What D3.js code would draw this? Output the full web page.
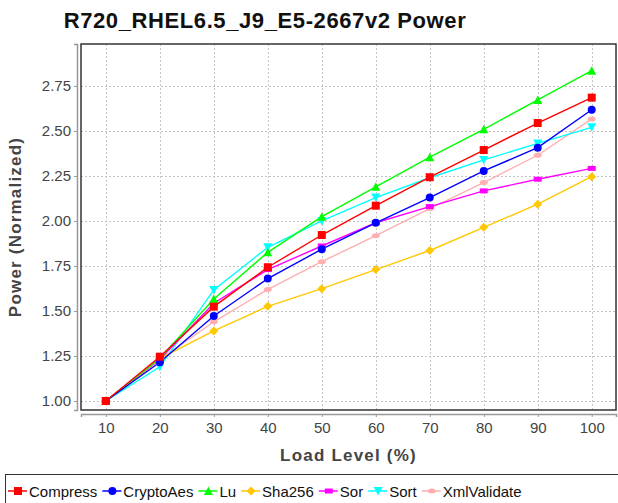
<!DOCTYPE html>
<html>
<head>
<meta charset="utf-8">
<script src="https://cdn.jsdelivr.net/npm/d3@7"></script>
<style>
  body { margin: 0; background: #fff; }
  svg { display: block; font-family: "Liberation Sans", Arial, sans-serif; }
</style>
</head>
<body>
<div id="chart"></div>
<script>
const loadLevels = [10, 20, 30, 40, 50, 60, 70, 80, 90, 100];
const compress    = [1.00, 1.246, 1.524, 1.743, 1.922, 2.085, 2.243, 2.394, 2.544, 2.685];
const cryptoAes   = [1.00, 1.215, 1.472, 1.680, 1.843, 1.990, 2.130, 2.278, 2.407, 2.618];
const lu          = [1.00, 1.237, 1.567, 1.826, 2.024, 2.190, 2.354, 2.509, 2.672, 2.835];
const sha256      = [1.00, 1.235, 1.389, 1.526, 1.624, 1.730, 1.836, 1.965, 2.093, 2.246];
const sor         = [1.00, 1.230, 1.543, 1.730, 1.861, 1.990, 2.080, 2.167, 2.232, 2.292];
const sort        = [1.00, 1.190, 1.617, 1.854, 2.000, 2.130, 2.240, 2.339, 2.431, 2.520];
const xmlValidate = [1.00, 1.230, 1.440, 1.620, 1.774, 1.918, 2.068, 2.213, 2.365, 2.567];

const seriesNames = ["Compress", "CryptoAes", "Lu", "Sha256", "Sor", "Sort", "XmlValidate"];
const seriesValues = [compress, cryptoAes, lu, sha256, sor, sort, xmlValidate];
const seriesColors = ["#ff0000", "#0000ff", "#00ff00", "#ffc800", "#ff00ff", "#00ffff", "#ffafaf"];
const seriesShapes = ["square", "circle", "triUp", "diamond", "hRect", "triDown", "hEllipse"];
const yTicks = [1.00, 1.25, 1.50, 1.75, 2.00, 2.25, 2.50, 2.75];

const width = 618, height = 503;
const plot = {left: 81, right: 616, top: 44, bottom: 410};

const svg = d3.select("#chart").append("svg")
    .attr("width", width)
    .attr("height", height);

const x = d3.scaleLinear().domain([5.4, 104.5]).range([plot.left, plot.right]);
const y = d3.scaleLinear().domain([0.95, 2.983]).range([plot.bottom, plot.top]);

// grid
const grid = svg.append("g").attr("stroke", "#c4c4c4").attr("stroke-dasharray", "2,2").attr("stroke-width", 1);
grid.selectAll("line.gx").data(loadLevels).join("line")
    .attr("x1", d => Math.round(x(d)) + 0.5).attr("x2", d => Math.round(x(d)) + 0.5)
    .attr("y1", plot.top).attr("y2", plot.bottom);
grid.selectAll("line.gy").data(yTicks).join("line")
    .attr("y1", d => Math.round(y(d)) + 0.5).attr("y2", d => Math.round(y(d)) + 0.5)
    .attr("x1", plot.left).attr("x2", plot.right);

// plot border
svg.append("rect")
    .attr("x", plot.left).attr("y", plot.top)
    .attr("width", plot.right - plot.left).attr("height", plot.bottom - plot.top)
    .attr("fill", "none").attr("stroke", "#333").attr("stroke-width", 1.5);

// axes, offset from the plot
const xAxis = svg.append("g")
    .attr("transform", `translate(0,${plot.bottom + 4})`)
    .call(d3.axisBottom(x).tickValues(loadLevels).tickSize(3).tickPadding(5));
const yAxis = svg.append("g")
    .attr("transform", `translate(${plot.left - 4},0)`)
    .call(d3.axisLeft(y).tickValues(yTicks).tickFormat(d3.format(".2f")).tickSize(3).tickPadding(3));

[xAxis, yAxis].forEach(a => {
    a.select(".domain").attr("stroke", "#999").attr("stroke-width", 1.5);
    a.selectAll(".tick line").attr("stroke", "#999");
    a.selectAll(".tick text").attr("fill", "#444").attr("font-size", 15)
        .attr("font-family", "'Liberation Sans', Arial, sans-serif");
});

// series symbols
function shapePath(kind) {
    switch (kind) {
        case "square": return "M-4,-4H4V4H-4Z";
        case "circle": return d3.symbol(d3.symbolCircle, 50)();
        case "triUp": return "M0,-4.5L4.5,4L-4.5,4Z";
        case "triDown": return "M0,4.5L4.5,-4L-4.5,-4Z";
        case "diamond": return "M0,-4.5L4.5,0L0,4.5L-4.5,0Z";
        case "hRect": return "M-4,-2.5H4V2.5H-4Z";
        case "hEllipse": return "M-4,0A4,2.5 0 1,0 4,0A4,2.5 0 1,0 -4,0Z";
    }
}

const line = d3.line().x((d, i) => x(loadLevels[i])).y(d => y(d));
const order = d3.range(seriesNames.length).reverse();

const lines = svg.append("g");
order.forEach(s => {
    lines.append("path")
        .datum(seriesValues[s])
        .attr("d", line)
        .attr("fill", "none")
        .attr("stroke", seriesColors[s])
        .attr("stroke-width", 1.4);
});
const marks = svg.append("g");
order.forEach(s => {
    marks.selectAll(null).data(seriesValues[s]).join("path")
        .attr("transform", (d, i) => `translate(${x(loadLevels[i])},${y(d)})`)
        .attr("d", shapePath(seriesShapes[s]))
        .attr("fill", seriesColors[s]);
});

// titles
svg.append("text")
    .attr("x", 265).attr("y", 28)
    .attr("text-anchor", "middle")
    .attr("font-size", 22).attr("font-weight", "bold")
    .attr("letter-spacing", 0.6)
    .attr("fill", "#111")
    .text("R720_RHEL6.5_J9_E5-2667v2 Power");

svg.append("text")
    .attr("x", (plot.left + plot.right) / 2).attr("y", 461)
    .attr("text-anchor", "middle")
    .attr("font-size", 17).attr("font-weight", "bold")
    .attr("letter-spacing", 1.2)
    .attr("fill", "#444")
    .text("Load Level (%)");

svg.append("text")
    .attr("transform", `translate(21,${(plot.top + plot.bottom) / 2}) rotate(-90)`)
    .attr("text-anchor", "middle")
    .attr("font-size", 17).attr("font-weight", "bold")
    .attr("letter-spacing", 1.2)
    .attr("fill", "#444")
    .text("Power (Normalized)");

// legend
const legend = svg.append("g");
legend.append("rect")
    .attr("x", 5.5).attr("y", 474.5)
    .attr("width", 640).attr("height", 32)
    .attr("fill", "none").attr("stroke", "#333").attr("stroke-width", 1);

let lx = 8;
seriesNames.forEach((name, s) => {
    const g = legend.append("g").attr("transform", `translate(${lx},491)`);
    g.append("line").attr("x1", 0).attr("x2", 19)
        .attr("stroke", seriesColors[s]).attr("stroke-width", 1.5);
    g.append("path").attr("transform", "translate(10,0)")
        .attr("d", shapePath(seriesShapes[s])).attr("fill", seriesColors[s]);
    const t = g.append("text").attr("x", 21).attr("y", 6)
        .attr("font-size", 15).attr("fill", "#111").text(name);
    lx += 21 + t.node().getComputedTextLength() + 5;
});
</script>
</body>
</html>
